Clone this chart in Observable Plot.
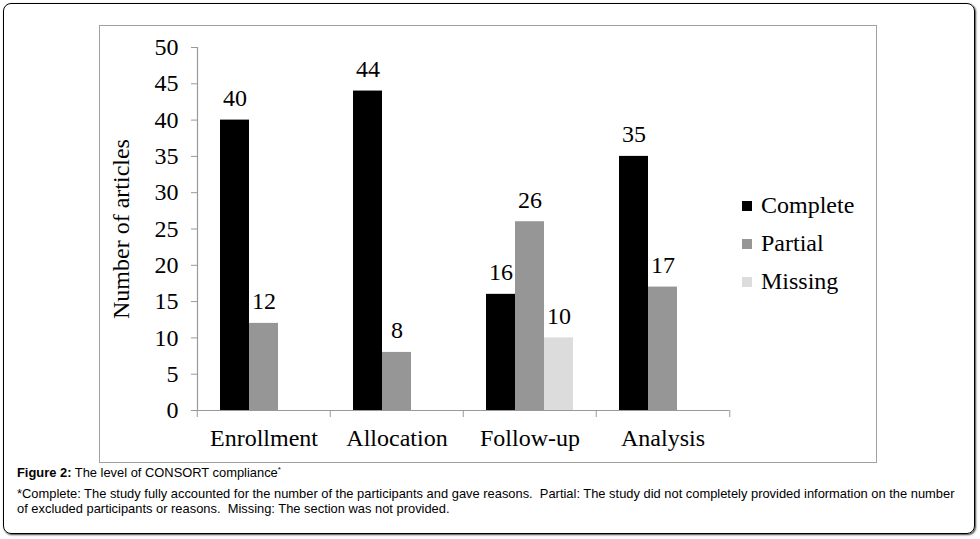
<!DOCTYPE html>
<html>
<head>
<meta charset="utf-8">
<script src="https://cdn.jsdelivr.net/npm/d3@7"></script>
<script src="https://cdn.jsdelivr.net/npm/@observablehq/plot@0.6"></script>
<style>
  html, body { margin: 0; padding: 0; background: #fff; }
  #wrap { position: relative; width: 980px; height: 539px; overflow: hidden; }
  #outer { position: absolute; left: 3px; top: 3px; width: 970px; height: 529px; border: 1px solid #000; border-radius: 8px; box-shadow: 1px 1px 2px #444; }
  #inner { position: absolute; left: 99px; top: 25px; width: 776px; height: 436px; border: 1px solid #a0a0a0; }
  #chart { position: absolute; left: 0; top: 0; }
  .leg { position: absolute; left: 742px; font-family: "Liberation Serif", serif; font-size: 24px; line-height: 24px; color: #000; white-space: nowrap; }
  .leg span.sw { display: inline-block; width: 10px; height: 10px; margin-right: 9px; vertical-align: 2px; }
  .cap { position: absolute; left: 17px; font-family: "Liberation Sans", Arial, sans-serif; font-size: 12.9px; line-height: 15px; color: #000; white-space: nowrap; }
</style>
</head>
<body>
<div id="wrap">
  <div id="outer"></div>
  <div id="inner"></div>
  <div id="chart"></div>
  <div id="legend"></div>
  <div class="cap" style="top:462px"><b>Figure 2:</b> The level of CONSORT compliance<sup style="font-size:8px">*</sup></div>
  <div class="cap" style="top:486px">*Complete: The study fully accounted for the number of the participants and gave reasons.&nbsp; Partial: The study did not completely provided information on the number</div>
  <div class="cap" style="top:501px">of excluded participants or reasons.&nbsp; Missing: The section was not provided.</div>
</div>
<script>
const categories = ["Enrollment", "Allocation", "Follow-up", "Analysis"];
const series = ["Complete", "Partial", "Missing"];
const complete = [40, 44, 16, 35];
const partial = [12, 8, 26, 17];
const missing = [null, null, 10, null];
const yTicks = [0, 5, 10, 15, 20, 25, 30, 35, 40, 45, 50];
const colors = ["#000000", "#969696", "#dcdcdc"];

const valuesBySeries = {Complete: complete, Partial: partial, Missing: missing};
const table = categories.flatMap((c, i) =>
  series.map(s => ({category: c, series: s, value: valuesBySeries[s][i]}))
).filter(d => d.value != null);

const W = 980, H = 465, mL = 196, mR = 250, mT = 47, mB = 55;
const halfBand = (W - mL - mR) / categories.length / 2;

const chart = Plot.plot({
  width: W, height: H,
  marginLeft: mL, marginRight: mR, marginTop: mT, marginBottom: mB,
  style: {fontFamily: "Liberation Serif, serif", fontSize: "24px", background: "transparent", overflow: "visible", color: "#000"},
  fx: {domain: categories, padding: 0, label: null, axis: null},
  x: {domain: series, paddingInner: 0, paddingOuter: 0.754, axis: null},
  y: {domain: [0, 50], axis: null},
  color: {domain: series, range: colors},
  marks: [
    Plot.barY(table, {fx: "category", x: "series", y: "value", fill: "series", inset: 0}),
    Plot.text(table, {fx: "category", x: "series", y: "value", text: d => String(d.value), dy: -14, lineAnchor: "bottom", fill: "#000", fontSize: 24}),
    Plot.ruleY([0], {stroke: "#999", strokeWidth: 1.2}),
    Plot.frame({anchor: "left", stroke: "#999", strokeWidth: 1.2, facetAnchor: "left"}),
    Plot.axisY({ticks: yTicks, tickSize: 6, tickPadding: 13, stroke: "#999", fontSize: 24, label: "Number of articles", labelAnchor: "center", labelArrow: "none", labelOffset: 86}),
    Plot.axisFx({anchor: "bottom", tickSize: 7, fill: "none", stroke: "#999", dx: -halfBand, label: null}),
    Plot.axisFx({anchor: "bottom", ticks: [categories[categories.length - 1]], tickSize: 7, fill: "none", stroke: "#999", dx: halfBand, label: null}),
    Plot.axisFx({anchor: "bottom", tickSize: 0, tickPadding: 18, fontSize: 24, label: null})
  ]
});
document.getElementById("chart").appendChild(chart);

const legend = document.getElementById("legend");
const legendTops = [193, 231, 269];
series.forEach((s, i) => {
  const d = document.createElement("div");
  d.className = "leg";
  d.style.top = legendTops[i] + "px";
  d.innerHTML = `<span class="sw" style="background:${colors[i]}"></span>${s}`;
  legend.appendChild(d);
});
</script>
</body>
</html>
